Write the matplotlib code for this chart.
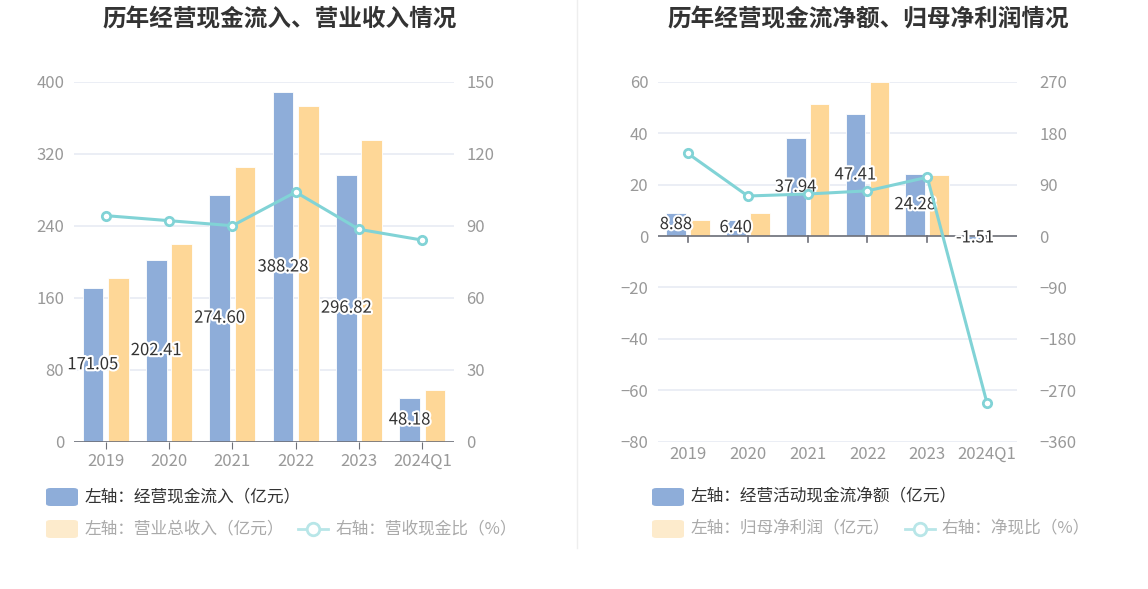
import numpy as np
import matplotlib.pyplot as plt
import matplotlib.patheffects as pe
from matplotlib.patches import FancyBboxPatch
from matplotlib.lines import Line2D

plt.rcParams['font.family'] = ['Noto Sans CJK SC', 'DejaVu Sans']

years = ['2019', '2020', '2021', '2022', '2023', '2024Q1']

# left chart
cash_in = [171.05, 202.41, 274.60, 388.28, 296.82, 48.18]
revenue = [181.6, 219.8, 305.0, 373.5, 335.5, 57.4]
cash_ratio = [94.2, 92.1, 90.0, 104.0, 88.5, 84.0]

# right chart
net_cash = [8.88, 6.40, 37.94, 47.41, 24.28, -1.51]
net_profit = [6.15, 8.8, 51.2, 59.7, 23.6, 0.51]
net_ratio = [144.4, 70.0, 73.5, 79.0, 102.8, -293.0]

BLUE = '#8eadd9'
ORANGE = '#fed797'
TEAL = '#81d3d6'
GRID = '#e8ebf3'
TICK = '#999999'

fig = plt.figure(figsize=(11.48, 5.89), dpi=100)
x = np.arange(len(years))
w = 0.33
off = 0.2


def style(ax, ax2, rpad):
    for a in (ax, ax2):
        for s in a.spines.values():
            s.set_visible(False)
    ax.tick_params(axis='y', length=0, labelsize=12, colors=TICK, pad=7)
    ax2.tick_params(axis='y', length=0, labelsize=12, colors=TICK, pad=rpad)
    ax.yaxis.grid(True, color=GRID, lw=1.2)
    ax.set_axisbelow(True)
    ax.tick_params(axis='x', length=5, color='#6e7079', labelsize=12,
                   labelcolor=TICK, pad=3)
    ax.set_xlim(-0.5, len(years) - 0.5)


def bar_labels(ax, vals):
    for xi, v in zip(x, vals):
        ax.text(xi - off, v / 2, f'{v:.2f}', ha='center', va='center',
                fontsize=12, color='#333333',
                path_effects=[pe.withStroke(linewidth=3, foreground='white')],
                zorder=6)


# ---------------- left ----------------
ax = fig.add_axes([0.0645, 0.25, 0.331, 0.6113])
ax2 = ax.twinx()
ax.bar(x - off, cash_in, w, color=BLUE, edgecolor='white', lw=0.6, zorder=2)
ax.bar(x + off, revenue, w, color=ORANGE, edgecolor='white', lw=0.6, zorder=2)
ax.set_ylim(0, 400)
ax.set_yticks(np.arange(0, 401, 80))
ax2.set_ylim(0, 150)
ax2.set_yticks(np.arange(0, 151, 30))
ax2.plot(x, cash_ratio, color=TEAL, lw=2.2, marker='o', ms=6,
         mfc='white', mec=TEAL, mew=2, zorder=5)
style(ax, ax2, 9)
ax.axhline(0, color='#6e7079', lw=1.2, zorder=3)
ax.set_xticks(x)
ax.set_xticklabels(years)
bar_labels(ax, cash_in)
ax2.set_zorder(ax.get_zorder() + 1)
ax2.patch.set_visible(False)
fig.text(0.2435, 0.967, '历年经营现金流入、营业收入情况', ha='center', va='center',
         fontsize=17, fontweight='bold', color='#333333')

# ---------------- right ----------------
bx = fig.add_axes([0.5732, 0.25, 0.3127, 0.6113])
bx2 = bx.twinx()
bx.bar(x - off, net_cash, w, color=BLUE, edgecolor='white', lw=0.6, zorder=2)
bx.bar(x + off, net_profit, w, color=ORANGE, edgecolor='white', lw=0.6, zorder=2)
bx.set_ylim(-80, 60)
bx.set_yticks(np.arange(-80, 61, 20))
bx2.set_ylim(-360, 270)
bx2.set_yticks(np.arange(-360, 271, 90))
bx2.plot(x, net_ratio, color=TEAL, lw=2.2, marker='o', ms=6,
         mfc='white', mec=TEAL, mew=2, zorder=5)
style(bx, bx2, 16)
bx.tick_params(axis='x', length=0)
bx.axhline(0, color='#6e7079', lw=1.2, zorder=3)
for xi in x:
    bx.plot([xi, xi], [0, -2.2], color='#6e7079', lw=1.2, zorder=3)
bx.set_xticks(x)
bx.set_xticklabels(years)
bar_labels(bx, net_cash)
bx2.set_zorder(bx.get_zorder() + 1)
bx2.patch.set_visible(False)
fig.text(0.7562, 0.967, '历年经营现金流净额、归母净利润情况', ha='center', va='center',
         fontsize=17, fontweight='bold', color='#333333')

# divider
fig.add_artist(Line2D([0.5026, 0.5026], [0.07, 1.0], color='#eeeeee', lw=1))


# ---------------- legends ----------------
def legend_patch(px, py, color):
    fig.add_artist(FancyBboxPatch((px / 1148, 1 - (py + 9) / 589), 32 / 1148, 18 / 589,
                                  boxstyle='round,pad=0,rounding_size=0.004',
                                  fc=color, ec='none', transform=fig.transFigure))


def legend_line(px, py):
    yy = 1 - py / 589
    fig.add_artist(Line2D([px / 1148, (px + 30) / 1148], [yy, yy], color='#b8e6e8', lw=2))
    fig.add_artist(Line2D([(px + 15) / 1148], [yy], marker='o', ms=9, mfc='white',
                          mec='#b8e6e8', mew=2))


for base, t1, t2, t3, lx in [
    (46, '左轴：经营现金流入（亿元）', '左轴：营业总收入（亿元）', '右轴：营收现金比（%）', 298),
    (652, '左轴：经营活动现金流净额（亿元）', '左轴：归母净利润（亿元）', '右轴：净现比（%）', 905),
]:
    legend_patch(base, 497, BLUE)
    fig.text((base + 39) / 1148, 1 - 497 / 589, t1, ha='left', va='center',
             fontsize=12, color='#333333')
    legend_patch(base, 529, '#fdebcc')
    fig.text((base + 39) / 1148, 1 - 529 / 589, t2, ha='left', va='center',
             fontsize=12, color='#aaaaaa')
    legend_line(lx, 529)
    fig.text((lx + 37) / 1148, 1 - 529 / 589, t3, ha='left', va='center',
             fontsize=12, color='#aaaaaa')

fig.savefig('out.png', dpi=100, facecolor='white')
